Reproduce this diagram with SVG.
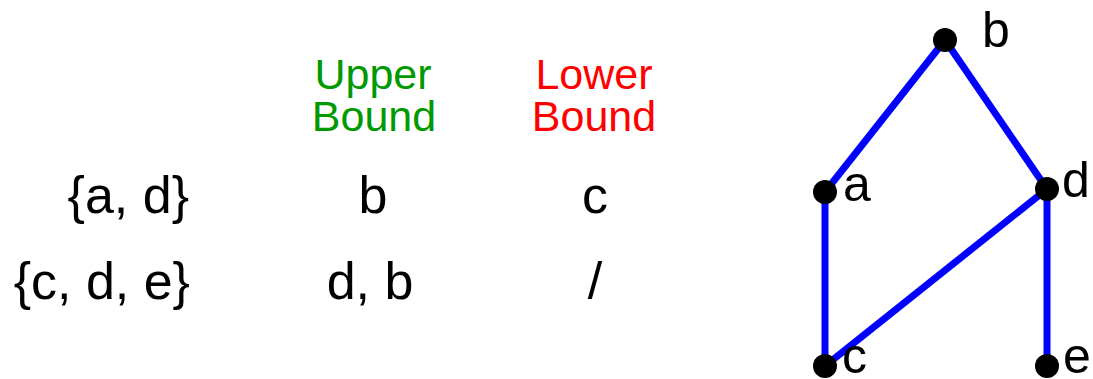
<svg xmlns="http://www.w3.org/2000/svg" width="1093" height="379" viewBox="0 0 1093 379">
<style>
text{font-family:"Liberation Sans",Arial,sans-serif;fill:#000}
.hdr{font-size:43px;text-anchor:middle}
.up{fill:#009900}
.lo{fill:#ff0000}
.row{font-size:52px}
.set{text-anchor:end}
.mid{text-anchor:middle}
.lbl{font-size:50px}
.edge{stroke:#0000ff;stroke-width:7;stroke-linecap:butt;fill:none}
.dot{fill:#000}
</style>
<g id="table">
<text class="hdr up" x="373" y="89">Upper</text>
<text class="hdr up" x="374" y="131">Bound</text>
<text class="hdr lo" x="594" y="89">Lower</text>
<text class="hdr lo" x="594" y="131">Bound</text>
<text class="row set" x="189" y="213">{a, d}</text>
<text class="row mid" x="373" y="213">b</text>
<text class="row mid" x="595" y="213">c</text>
<text class="row set" x="190" y="299">{c, d, e}</text>
<text class="row mid" x="370" y="299">d, b</text>
<text class="row mid" x="595" y="299">/</text>
</g>
<g id="connectors">
<line class="edge" x1="945" y1="40" x2="825" y2="192"/>
<line class="edge" x1="945" y1="40" x2="1047" y2="189"/>
<line class="edge" x1="825" y1="192" x2="825" y2="366"/>
<line class="edge" x1="1047" y1="189" x2="825" y2="366"/>
<line class="edge" x1="1047" y1="189" x2="1047" y2="366"/>
</g>
<g id="node-b"><circle class="dot" cx="945" cy="40" r="12"/><text class="lbl" x="982" y="47">b</text></g>
<g id="node-a"><circle class="dot" cx="825" cy="192" r="12"/><text class="lbl" x="843" y="201">a</text></g>
<g id="node-d"><circle class="dot" cx="1047" cy="189" r="12"/><text class="lbl" x="1062" y="197">d</text></g>
<g id="node-c"><circle class="dot" cx="825" cy="366" r="12"/><text class="lbl" x="842" y="373">c</text></g>
<g id="node-e"><circle class="dot" cx="1047" cy="366" r="12"/><text class="lbl" x="1063" y="373">e</text></g>
</svg>
